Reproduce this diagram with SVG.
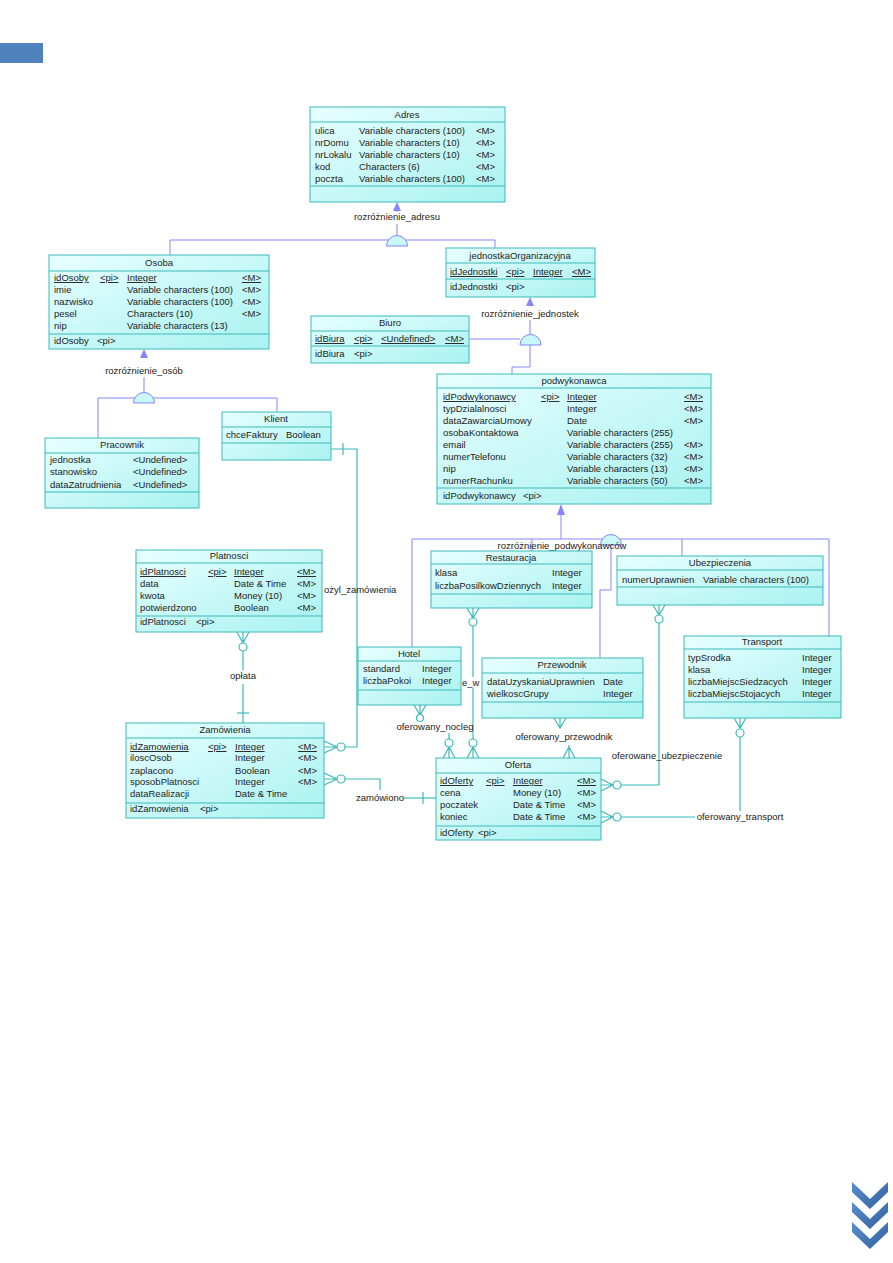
<svg xmlns="http://www.w3.org/2000/svg" width="893" height="1263" viewBox="0 0 893 1263">
<defs>
<linearGradient id="bg" x1="0" y1="0" x2="1" y2="1">
<stop offset="0" stop-color="#e8ffff"/>
<stop offset="1" stop-color="#a8f2f0"/>
</linearGradient>
<linearGradient id="chev" x1="0" y1="0" x2="1" y2="1">
<stop offset="0" stop-color="#5b8fd0"/>
<stop offset="1" stop-color="#2f5f9c"/>
</linearGradient>
</defs>
<style>
text{font-family:"Liberation Sans",Arial,sans-serif;font-size:9.5px;fill:#222}
.tt{text-anchor:middle}
.u{text-decoration:underline}
.box{fill:url(#bg);stroke:#3cbaba;stroke-width:1}
.sep{stroke:#3cbaba;stroke-width:1}
.inh{fill:none;stroke:#8585ff;stroke-width:1}
.tri{fill:#8585ff;stroke:none}
.dome{fill:#c8f8fa;stroke:#8585ff;stroke-width:1}
.rel{fill:none;stroke:#3cbaba;stroke-width:1.2}
.cir{fill:#fff;stroke:#3cbaba;stroke-width:1.2}
.lbl{text-anchor:middle}
</style>
<rect width="893" height="1263" fill="#fff"/>
<rect x="0" y="43" width="43" height="20" fill="#4f81bd"/>
<g id="chevrons" fill="url(#chev)">
<path d="M852,1182 L870,1199 L888,1182 L888,1192 L870,1209 L852,1192 Z"/>
<path d="M852,1202 L870,1219 L888,1202 L888,1212 L870,1229 L852,1212 Z"/>
<path d="M852,1222 L870,1239 L888,1222 L888,1232 L870,1249 L852,1232 Z"/>
</g>

<g id="connectors">
<!-- inheritance Adres -->
<polygon class="tri" points="397,202 393,211 401,211"/>
<line class="inh" x1="397" y1="211" x2="397" y2="212"/>
<text class="lbl" x="397" y="220">rozróżnienie_adresu</text>
<line class="inh" x1="397" y1="224" x2="397" y2="236"/>
<polyline class="inh" points="170,255 170,240 495,240 495,248"/>
<path class="dome" d="M386.5,246 A10.5,10.5 0 0 1 407.5,246 Z"/>
<!-- inheritance jednostka -->
<polygon class="tri" points="530,297 526,306 534,306"/>
<text class="lbl" x="530" y="317">rozróżnienie_jednostek</text>
<line class="inh" x1="530" y1="320" x2="530" y2="335"/>
<line class="inh" x1="469" y1="339" x2="520" y2="339"/>
<polyline class="inh" points="530,345 530,367 512,367 512,374"/>
<path class="dome" d="M520,345 A10.5,10.5 0 0 1 541,345 Z"/>
<!-- inheritance Osoba -->
<polygon class="tri" points="144,349 140,358 148,358"/>
<text class="lbl" x="144" y="374">rozróżnienie_osób</text>
<line class="inh" x1="144" y1="377" x2="144" y2="393"/>
<polyline class="inh" points="98,438 98,398 277,398 277,412"/>
<path class="dome" d="M133.5,403 A10.5,10.5 0 0 1 154.5,403 Z"/>
<!-- inheritance podwykonawca -->
<polygon class="tri" points="561,504 557,515 565,515"/>
<line class="inh" x1="561" y1="515" x2="561" y2="539"/>
<polyline class="inh" points="412,647 412,539 829,539 829,636"/>
<line class="inh" x1="532" y1="539" x2="532" y2="551"/>
<line class="inh" x1="682" y1="539" x2="682" y2="556"/>
<path class="dome" d="M600.5,545 A10.5,10.5 0 0 1 621.5,545 Z"/>
<polyline class="inh" points="611,545 611,590 600,590 600,658"/>
<text class="lbl" x="562" y="549">rozróżnienie_podwykonawców</text>

<!-- Klient - Zamowienia -->
<polyline class="rel" points="331,449 357,449 357,747 345,747"/>
<line class="rel" x1="343" y1="443" x2="343" y2="455"/>
<path class="rel" d="M324,741 L337,747 L324,753 M324,747 L337,747"/>
<circle class="cir" cx="341" cy="747" r="4"/>
<text x="324" y="593">ożyl_zamówienia</text>
<!-- Platnosci - Zamowienia -->
<path class="rel" d="M237,632 L243,643 L249,632 M243,632 L243,643"/>
<circle class="cir" cx="243" cy="647" r="4"/>
<line class="rel" x1="243" y1="651" x2="243" y2="670"/>
<text class="lbl" x="243" y="679">opłata</text>
<line class="rel" x1="243" y1="684" x2="243" y2="723"/>
<line class="rel" x1="237" y1="713" x2="249" y2="713"/>
<!-- zamowiono -->
<path class="rel" d="M324,773 L337,779 L324,785 M324,779 L337,779"/>
<circle class="cir" cx="341" cy="779" r="4"/>
<polyline class="rel" points="345,779 380,779 380,790"/>
<text class="lbl" x="380" y="801">zamówiono</text>
<line class="rel" x1="404" y1="798" x2="436" y2="798"/>
<line class="rel" x1="423" y1="792" x2="423" y2="804"/>
<!-- Restauracja - Oferta -->
<path class="rel" d="M467,608 L473,618 L479,608 M473,608 L473,618"/>
<circle class="cir" cx="473" cy="622" r="4"/>
<line class="rel" x1="473" y1="626" x2="473" y2="677"/>
<text x="462" y="686">e_w</text>
<line class="rel" x1="473" y1="688" x2="473" y2="739"/>
<circle class="cir" cx="473" cy="743" r="4"/>
<path class="rel" d="M467,758 L473,747 L479,758 M473,758 L473,747"/>
<!-- Hotel - Oferta -->
<path class="rel" d="M414,705 L420,715 L426,705 M420,705 L420,715"/>
<circle class="cir" cx="420" cy="718" r="3.5"/>
<text class="lbl" x="435" y="730">oferowany_nocleg</text>
<line class="rel" x1="449" y1="733" x2="449" y2="739"/>
<circle class="cir" cx="449" cy="743" r="4"/>
<path class="rel" d="M443,758 L449,747 L455,758 M449,758 L449,747"/>
<!-- Przewodnik - Oferta -->
<path class="rel" d="M554,718 L560,728 L566,718 M560,718 L560,728"/>
<text class="lbl" x="564" y="740">oferowany_przewodnik</text>
<path class="rel" d="M563,758 L569,747 L575,758 M569,758 L569,745"/>
<!-- Ubezpieczenia - Oferta -->
<path class="rel" d="M653,605 L659,615 L665,605 M659,605 L659,615"/>
<circle class="cir" cx="659" cy="619" r="4"/>
<polyline class="rel" points="659,623 659,785 621,785"/>
<text class="lbl" x="667" y="759">oferowane_ubezpieczenie</text>
<circle class="cir" cx="617" cy="785" r="4"/>
<path class="rel" d="M601,779 L613,785 L601,791 M601,785 L613,785"/>
<!-- Transport - Oferta -->
<path class="rel" d="M734,718 L740,728 L746,718 M740,718 L740,728"/>
<circle class="cir" cx="740" cy="733" r="4"/>
<line class="rel" x1="740" y1="737" x2="740" y2="811"/>
<text class="lbl" x="740" y="820">oferowany_transport</text>
<line class="rel" x1="695" y1="817" x2="621" y2="817"/>
<circle class="cir" cx="617" cy="817" r="4"/>
<path class="rel" d="M601,811 L613,817 L601,823 M601,817 L613,817"/>
</g>

<g id="Adres">
<rect class="box" x="310" y="107" width="195" height="95"/>
<line class="sep" x1="310" y1="122" x2="505" y2="122"/>
<line class="sep" x1="310" y1="186" x2="505" y2="186"/>
<text class="tt" x="407" y="118">Adres</text>
<text x="315" y="134">ulica</text><text x="359" y="134">Variable characters (100)</text><text x="476" y="134">&lt;M&gt;</text>
<text x="315" y="146">nrDomu</text><text x="359" y="146">Variable characters (10)</text><text x="476" y="146">&lt;M&gt;</text>
<text x="315" y="158">nrLokalu</text><text x="359" y="158">Variable characters (10)</text><text x="476" y="158">&lt;M&gt;</text>
<text x="315" y="170">kod</text><text x="359" y="170">Characters (6)</text><text x="476" y="170">&lt;M&gt;</text>
<text x="315" y="182">poczta</text><text x="359" y="182">Variable characters (100)</text><text x="476" y="182">&lt;M&gt;</text>
</g>

<g id="Osoba">
<rect class="box" x="49" y="255" width="220" height="94"/>
<line class="sep" x1="49" y1="271" x2="269" y2="271"/>
<line class="sep" x1="49" y1="334" x2="269" y2="334"/>
<text class="tt" x="159" y="266">Osoba</text>
<text class="u" x="54" y="281">idOsoby</text><text class="u" x="100" y="281">&lt;pi&gt;</text><text class="u" x="127" y="281">Integer</text><text class="u" x="242" y="281">&lt;M&gt;</text>
<text x="54" y="293">imie</text><text x="127" y="293">Variable characters (100)</text><text x="242" y="293">&lt;M&gt;</text>
<text x="54" y="305">nazwisko</text><text x="127" y="305">Variable characters (100)</text><text x="242" y="305">&lt;M&gt;</text>
<text x="54" y="317">pesel</text><text x="127" y="317">Characters (10)</text><text x="242" y="317">&lt;M&gt;</text>
<text x="54" y="329">nip</text><text x="127" y="329">Variable characters (13)</text>
<text x="54" y="344">idOsoby</text><text x="97" y="344">&lt;pi&gt;</text>
</g>

<g id="jednostkaOrganizacyjna">
<rect class="box" x="446" y="248" width="149" height="49"/>
<line class="sep" x1="446" y1="263" x2="595" y2="263"/>
<line class="sep" x1="446" y1="279" x2="595" y2="279"/>
<text class="tt" x="520" y="259">jednostkaOrganizacyjna</text>
<text class="u" x="450" y="275">idJednostki</text><text class="u" x="506" y="275">&lt;pi&gt;</text><text class="u" x="533" y="275">Integer</text><text class="u" x="572" y="275">&lt;M&gt;</text>
<text x="450" y="290">idJednostki</text><text x="506" y="290">&lt;pi&gt;</text>
</g>

<g id="Biuro">
<rect class="box" x="311" y="316" width="158" height="47"/>
<line class="sep" x1="311" y1="331" x2="469" y2="331"/>
<line class="sep" x1="311" y1="346" x2="469" y2="346"/>
<text class="tt" x="390" y="326">Biuro</text>
<text class="u" x="315" y="342">idBiura</text><text class="u" x="354" y="342">&lt;pi&gt;</text><text class="u" x="381" y="342">&lt;Undefined&gt;</text><text class="u" x="445" y="342">&lt;M&gt;</text>
<text x="315" y="357">idBiura</text><text x="354" y="357">&lt;pi&gt;</text>
</g>

<g id="Klient">
<rect class="box" x="222" y="412" width="109" height="48"/>
<line class="sep" x1="222" y1="427" x2="331" y2="427"/>
<line class="sep" x1="222" y1="443" x2="331" y2="443"/>
<text class="tt" x="276" y="422">Klient</text>
<text x="226" y="438">chceFaktury</text><text x="286" y="438">Boolean</text>
</g>

<g id="Pracownik">
<rect class="box" x="45" y="438" width="154" height="70"/>
<line class="sep" x1="45" y1="453" x2="199" y2="453"/>
<line class="sep" x1="45" y1="492" x2="199" y2="492"/>
<text class="tt" x="122" y="448">Pracownik</text>
<text x="50" y="463">jednostka</text><text x="133" y="463">&lt;Undefined&gt;</text>
<text x="50" y="475">stanowisko</text><text x="133" y="475">&lt;Undefined&gt;</text>
<text x="50" y="488">dataZatrudnienia</text><text x="133" y="488">&lt;Undefined&gt;</text>
</g>

<g id="podwykonawca">
<rect class="box" x="437" y="374" width="274" height="130"/>
<line class="sep" x1="437" y1="388" x2="711" y2="388"/>
<line class="sep" x1="437" y1="488" x2="711" y2="488"/>
<text class="tt" x="574" y="384">podwykonawca</text>
<text class="u" x="443" y="400">idPodwykonawcy</text><text class="u" x="541" y="400">&lt;pi&gt;</text><text class="u" x="567" y="400">Integer</text><text class="u" x="684" y="400">&lt;M&gt;</text>
<text x="443" y="412">typDzialalnosci</text><text x="567" y="412">Integer</text><text x="684" y="412">&lt;M&gt;</text>
<text x="443" y="424">dataZawarciaUmowy</text><text x="567" y="424">Date</text><text x="684" y="424">&lt;M&gt;</text>
<text x="443" y="436">osobaKontaktowa</text><text x="567" y="436">Variable characters (255)</text>
<text x="443" y="448">email</text><text x="567" y="448">Variable characters (255)</text><text x="684" y="448">&lt;M&gt;</text>
<text x="443" y="460">numerTelefonu</text><text x="567" y="460">Variable characters (32)</text><text x="684" y="460">&lt;M&gt;</text>
<text x="443" y="472">nip</text><text x="567" y="472">Variable characters (13)</text><text x="684" y="472">&lt;M&gt;</text>
<text x="443" y="484">numerRachunku</text><text x="567" y="484">Variable characters (50)</text><text x="684" y="484">&lt;M&gt;</text>
<text x="443" y="499">idPodwykonawcy</text><text x="523" y="499">&lt;pi&gt;</text>
</g>

<g id="Platnosci">
<rect class="box" x="136" y="550" width="186" height="82"/>
<line class="sep" x1="136" y1="563" x2="322" y2="563"/>
<line class="sep" x1="136" y1="616" x2="322" y2="616"/>
<text class="tt" x="229" y="559">Platnosci</text>
<text class="u" x="140" y="575">idPlatnosci</text><text class="u" x="208" y="575">&lt;pi&gt;</text><text class="u" x="234" y="575">Integer</text><text class="u" x="297" y="575">&lt;M&gt;</text>
<text x="140" y="587">data</text><text x="234" y="587">Date &amp; Time</text><text x="297" y="587">&lt;M&gt;</text>
<text x="140" y="599">kwota</text><text x="234" y="599">Money (10)</text><text x="297" y="599">&lt;M&gt;</text>
<text x="140" y="611">potwierdzono</text><text x="234" y="611">Boolean</text><text x="297" y="611">&lt;M&gt;</text>
<text x="140" y="625">idPlatnosci</text><text x="196" y="625">&lt;pi&gt;</text>
</g>

<g id="Restauracja">
<rect class="box" x="431" y="551" width="161" height="57"/>
<line class="sep" x1="431" y1="564" x2="592" y2="564"/>
<line class="sep" x1="431" y1="594" x2="592" y2="594"/>
<text class="tt" x="511" y="561">Restauracja</text>
<text x="435" y="576">klasa</text><text x="552" y="576">Integer</text>
<text x="435" y="589">liczbaPosilkowDziennych</text><text x="552" y="589">Integer</text>
</g>

<g id="Ubezpieczenia">
<rect class="box" x="617" y="556" width="206" height="49"/>
<line class="sep" x1="617" y1="570" x2="823" y2="570"/>
<line class="sep" x1="617" y1="587" x2="823" y2="587"/>
<text class="tt" x="720" y="566">Ubezpieczenia</text>
<text x="622" y="583">numerUprawnien</text><text x="703" y="583">Variable characters (100)</text>
</g>

<g id="Hotel">
<rect class="box" x="358" y="647" width="103" height="58"/>
<line class="sep" x1="358" y1="661" x2="461" y2="661"/>
<line class="sep" x1="358" y1="690" x2="461" y2="690"/>
<text class="tt" x="409" y="657">Hotel</text>
<text x="363" y="672">standard</text><text x="422" y="672">Integer</text>
<text x="363" y="684">liczbaPokoi</text><text x="422" y="684">Integer</text>
</g>

<g id="Przewodnik">
<rect class="box" x="482" y="658" width="161" height="60"/>
<line class="sep" x1="482" y1="673" x2="643" y2="673"/>
<line class="sep" x1="482" y1="702" x2="643" y2="702"/>
<text class="tt" x="562" y="668">Przewodnik</text>
<text x="487" y="685">dataUzyskaniaUprawnien</text><text x="603" y="685">Date</text>
<text x="487" y="697">wielkoscGrupy</text><text x="603" y="697">Integer</text>
</g>

<g id="Transport">
<rect class="box" x="684" y="636" width="157" height="82"/>
<line class="sep" x1="684" y1="649" x2="841" y2="649"/>
<line class="sep" x1="684" y1="702" x2="841" y2="702"/>
<text class="tt" x="762" y="645">Transport</text>
<text x="688" y="661">typSrodka</text><text x="802" y="661">Integer</text>
<text x="688" y="673">klasa</text><text x="802" y="673">Integer</text>
<text x="688" y="685">liczbaMiejscSiedzacych</text><text x="802" y="685">Integer</text>
<text x="688" y="697">liczbaMiejscStojacych</text><text x="802" y="697">Integer</text>
</g>

<g id="Zamowienia">
<rect class="box" x="126" y="723" width="198" height="95"/>
<line class="sep" x1="126" y1="738" x2="324" y2="738"/>
<line class="sep" x1="126" y1="803" x2="324" y2="803"/>
<text class="tt" x="225" y="733">Zamówienia</text>
<text class="u" x="130" y="750">idZamowienia</text><text class="u" x="208" y="750">&lt;pi&gt;</text><text class="u" x="235" y="750">Integer</text><text class="u" x="298" y="750">&lt;M&gt;</text>
<text x="130" y="761">iloscOsob</text><text x="235" y="761">Integer</text><text x="298" y="761">&lt;M&gt;</text>
<text x="130" y="774">zaplacono</text><text x="235" y="774">Boolean</text><text x="298" y="774">&lt;M&gt;</text>
<text x="130" y="785">sposobPlatnosci</text><text x="235" y="785">Integer</text><text x="298" y="785">&lt;M&gt;</text>
<text x="130" y="797">dataRealizacji</text><text x="235" y="797">Date &amp; Time</text>
<text x="130" y="812">idZamowienia</text><text x="200" y="812">&lt;pi&gt;</text>
</g>

<g id="Oferta">
<rect class="box" x="436" y="758" width="165" height="82"/>
<line class="sep" x1="436" y1="773" x2="601" y2="773"/>
<line class="sep" x1="436" y1="826" x2="601" y2="826"/>
<text class="tt" x="518" y="768">Oferta</text>
<text class="u" x="440" y="784">idOferty</text><text class="u" x="486" y="784">&lt;pi&gt;</text><text class="u" x="513" y="784">Integer</text><text class="u" x="577" y="784">&lt;M&gt;</text>
<text x="440" y="796">cena</text><text x="513" y="796">Money (10)</text><text x="577" y="796">&lt;M&gt;</text>
<text x="440" y="808">poczatek</text><text x="513" y="808">Date &amp; Time</text><text x="577" y="808">&lt;M&gt;</text>
<text x="440" y="820">koniec</text><text x="513" y="820">Date &amp; Time</text><text x="577" y="820">&lt;M&gt;</text>
<text x="440" y="836">idOferty</text><text x="478" y="836">&lt;pi&gt;</text>
</g>
</svg>
